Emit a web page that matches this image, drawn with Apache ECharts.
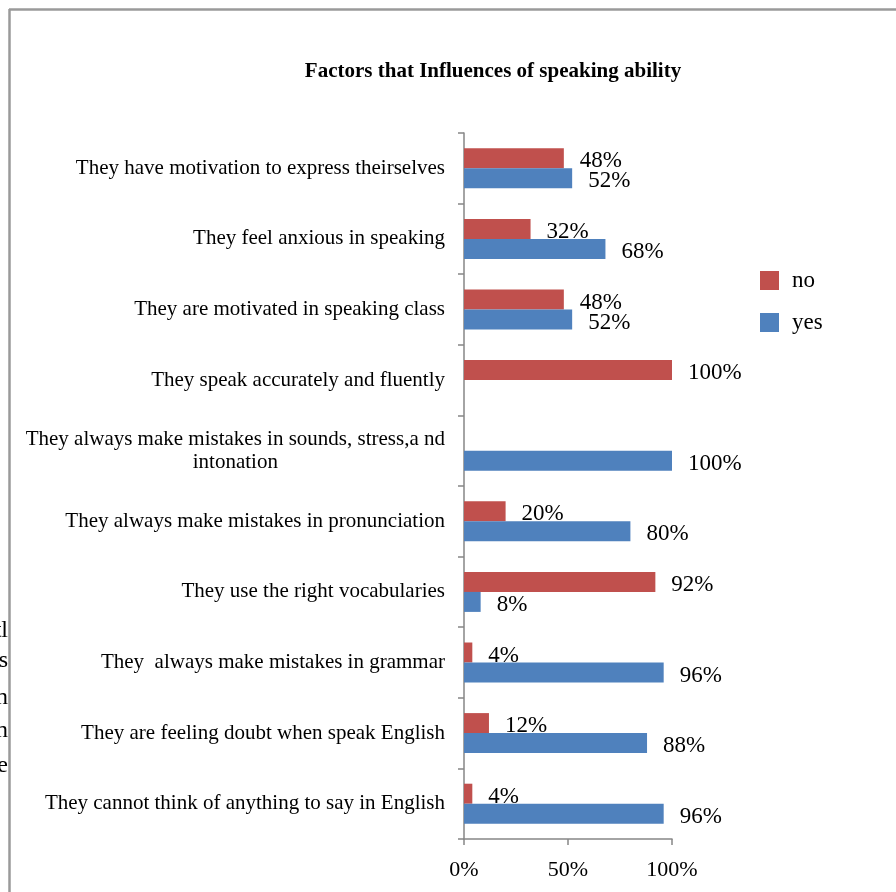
<!DOCTYPE html>
<html>
<head>
<meta charset="utf-8">
<script src="https://cdn.jsdelivr.net/npm/echarts@6/dist/echarts.min.js"></script>
<style>html,body{margin:0;padding:0;background:#fff;}#c{width:896px;height:892px;}</style>
</head>
<body>
<div id="c"></div>
<script>
const categories = [
  "They have motivation to express theirselves",
  "They feel anxious in speaking",
  "They are motivated in speaking class",
  "They speak accurately and fluently",
  "They always make mistakes in sounds, stress,a nd\nintonation",
  "They always make mistakes in pronunciation",
  "They use the right vocabularies",
  "They  always make mistakes in grammar",
  "They are feeling doubt when speak English",
  "They cannot think of anything to say in English"
];
const noValues  = [48, 32, 48, 100, 0, 20, 92, 4, 12, 4];
const yesValues = [52, 68, 52, 0, 100, 80, 8, 96, 88, 96];
const xTicks = [0, 50, 100];
const fragments = ["tl", "s", "n", "n", "e"];

const FONT = "Liberation Serif";
const chart = echarts.init(document.getElementById('c'), null, {renderer: 'canvas'});

const labelCfg = {
  show: true, position: 'right', distance: 16,
  fontFamily: FONT, fontSize: 23, color: '#000',
  offset: [0, 3],
  formatter: p => p.value === 0 ? '' : p.value + '%'
};

chart.setOption({
  animation: false,
  backgroundColor: '#fff',
  title: {
    text: 'Factors that Influences of speaking ability',
    left: 488, top: 56, textAlign: 'center',
    textStyle: {fontFamily: FONT, fontSize: 21, fontWeight: 'bold', color: '#000'}
  },
  legend: {
    orient: 'vertical', left: 755, top: 264,
    itemWidth: 19, itemHeight: 19, itemGap: 19,
    icon: 'rect',
    textStyle: {fontFamily: FONT, fontSize: 23, color: '#000', padding: [0,0,0,8], lineHeight: 23},
    data: ['no', 'yes']
  },
  grid: {left: 464, right: 224, top: 133, bottom: 53, containLabel: false},
  xAxis: {
    type: 'value', min: 0, max: 100, interval: 50,
    axisLine: {show: true, lineStyle: {color: '#868686', width: 1.5}},
    axisTick: {show: true, length: 6, lineStyle: {color: '#868686', width: 1.5}},
    splitLine: {show: false},
    axisLabel: {
      fontFamily: FONT, fontSize: 22, color: '#000', margin: 20,
      formatter: v => xTicks.includes(v) ? v + '%' : ''
    }
  },
  yAxis: {
    type: 'category', inverse: true, data: categories,
    axisLine: {show: true, lineStyle: {color: '#868686', width: 1.5}},
    axisTick: {show: true, length: 6, lineStyle: {color: '#868686', width: 1.5}},
    axisLabel: {
      fontFamily: FONT, fontSize: 21, color: '#000', margin: 19,
      lineHeight: 23,
      formatter: v => v.split('\n').map(s => '{c|' + s + '}').join('\n'),
      rich: {c: {fontFamily: FONT, fontSize: 21, color: '#000', align: 'center', lineHeight: 23}}
    }
  },
  series: [
    {name: 'no', type: 'bar', data: noValues, barWidth: 20, barGap: '0%',
     itemStyle: {color: '#C0504D'}, label: labelCfg},
    {name: 'yes', type: 'bar', data: yesValues, barWidth: 20, barGap: '0%',
     itemStyle: {color: '#4F81BD'}, label: labelCfg}
  ],
  graphic: [
    {type: 'line', shape: {x1: 9, y1: 9.5, x2: 896, y2: 9.5}, style: {stroke: '#9a9a9a', lineWidth: 2.5}},
    {type: 'line', shape: {x1: 9.5, y1: 9, x2: 9.5, y2: 892}, style: {stroke: '#9a9a9a', lineWidth: 2.5}}
  ].concat(fragments.map((t, i) => ({
    type: 'text', x: 8, y: [631, 661, 698, 731, 766][i],
    style: {text: t, fontFamily: FONT, fontSize: 24, fill: '#000', textAlign: 'right', textVerticalAlign: 'middle'}
  })))
});
</script>
</body>
</html>
